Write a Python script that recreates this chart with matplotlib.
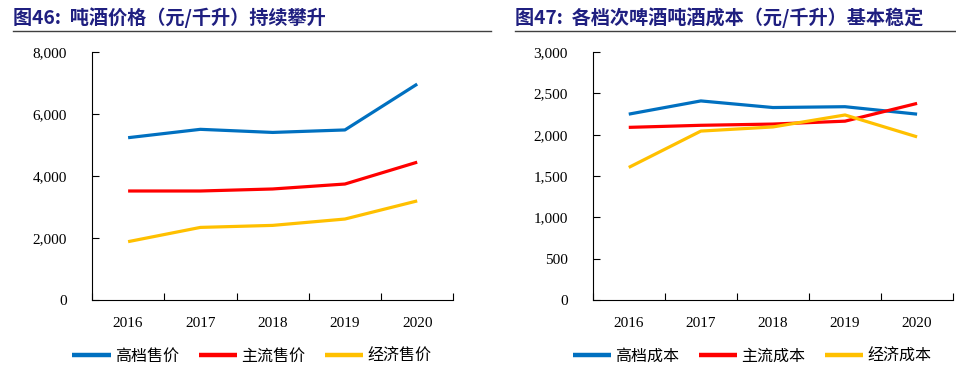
import numpy as np
import matplotlib.pyplot as plt
from matplotlib.ticker import FuncFormatter

plt.rcParams['font.family'] = ['Liberation Serif', 'Noto Sans CJK SC']

years = ['2016', '2017', '2018', '2019', '2020']

# 图46 吨酒价格 (元/千升)
price_high = [5240, 5510, 5410, 5490, 6970]
price_main = [3520, 3520, 3585, 3745, 4450]
price_econ = [1885, 2345, 2410, 2615, 3200]

# 图47 吨酒成本 (元/千升)
cost_high = [2250, 2410, 2330, 2340, 2250]
cost_main = [2090, 2115, 2130, 2165, 2380]
cost_econ = [1605, 2045, 2095, 2240, 1975]

colors = ['#0070C0', '#FF0000', '#FFC000']
title_color = '#1F1F80'
cjk = ['Noto Sans CJK SC', 'DejaVu Sans']

fig = plt.figure(figsize=(9.56, 3.70), dpi=100)


def draw(ax, series, names, ymax, ystep):
    x = np.arange(len(years))
    for vals, c, n in zip(series, colors, names):
        ax.plot(x, vals, color=c, lw=2.3, label=n, solid_capstyle='butt')
    ax.set_xlim(-0.5, len(years) - 0.5)
    ax.set_ylim(0, ymax)
    ax.set_yticks(np.arange(0, ymax + 1, ystep))
    ax.yaxis.set_major_formatter(FuncFormatter(lambda v, p: f'{int(v):,}'))
    ax.set_xticks(np.arange(-0.5, len(years)))
    ax.set_xticklabels([])
    ax.set_xticks(x, minor=True)
    ax.set_xticklabels(years, minor=True)
    ax.tick_params(axis='x', which='major', direction='in', length=5, width=0.8)
    ax.tick_params(axis='x', which='minor', length=0, pad=12, labelsize=11)
    ax.tick_params(axis='y', direction='in', length=5, width=0.8, pad=18, labelsize=11)
    for s in ['top', 'right']:
        ax.spines[s].set_visible(False)
    for s in ['left', 'bottom']:
        ax.spines[s].set_linewidth(0.8)
    leg = ax.legend(loc='center', bbox_to_anchor=(0.442, -0.225), ncol=3,
                    frameon=False, prop={'family': cjk, 'size': 11.5},
                    handlelength=2.4, handletextpad=0.25, columnspacing=1.25,
                    borderpad=0, borderaxespad=0)
    for h in leg.get_lines():
        h.set_linewidth(3.2)


ax1 = fig.add_axes([0.0962, 0.189, 0.378, 0.670])
draw(ax1, [price_high, price_main, price_econ], ['高档售价', '主流售价', '经济售价'], 8000, 2000)

ax2 = fig.add_axes([0.620, 0.189, 0.377, 0.670])
draw(ax2, [cost_high, cost_main, cost_econ], ['高档成本', '主流成本', '经济成本'], 3000, 500)

fig.text(0.014, 0.952, '图46:  吨酒价格（元/千升）持续攀升', family=cjk, fontsize=13.8,
         fontweight='bold', color=title_color, va='center')
fig.text(0.539, 0.952, '图47:  各档次啤酒吨酒成本（元/千升）基本稳定', family=cjk, fontsize=13.8,
         fontweight='bold', color=title_color, va='center')
fig.add_artist(plt.Line2D([0.014, 0.514], [0.916, 0.916], color='#404040', lw=1.0))
fig.add_artist(plt.Line2D([0.539, 1.0], [0.916, 0.916], color='#404040', lw=1.0))

fig.savefig('out.png', dpi=100)
